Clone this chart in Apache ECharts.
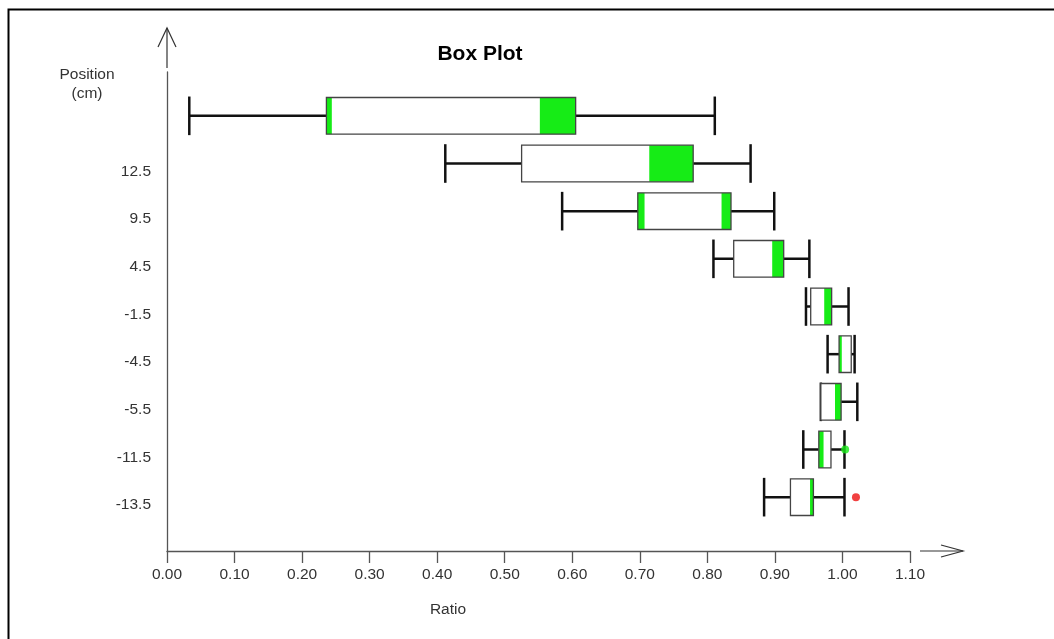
<!DOCTYPE html>
<html>
<head>
<meta charset="utf-8">
<script src="https://cdn.jsdelivr.net/npm/echarts@6/dist/echarts.min.js"></script>
<style>html,body{margin:0;padding:0;background:#fff}#c{width:1054px;height:639px}</style>
</head>
<body>
<div id="c"></div>
<script>
// Row labels, bottom to top
const positions = ['-13.5', '-11.5', '-5.5', '-4.5', '-1.5', '4.5', '9.5', '12.5', ''];
const whiskerLow  = [0.884, 0.942, 0.968, 0.978, 0.946, 0.809, 0.585, 0.412, 0.033];
const q1          = [0.923, 0.965, 0.968, 0.995, 0.953, 0.839, 0.697, 0.525, 0.236];
const q3          = [0.957, 0.983, 0.998, 1.013, 0.984, 0.913, 0.835, 0.779, 0.605];
const whiskerHigh = [1.003, 1.003, 1.022, 1.018, 1.009, 0.951, 0.899, 0.864, 0.811];
// green shaded segments inside each box (null = none)
const greenAStart = [0.952, 0.965, 0.989, 0.995, 0.973, 0.896, 0.697, 0.714, 0.236];
const greenAEnd   = [0.957, 0.972, 0.998, 0.999, 0.984, 0.913, 0.707, 0.779, 0.244];
const greenBStart = [null, null, null, null, null, null, 0.821, null, 0.552];
const greenBEnd   = [null, null, null, null, null, null, 0.835, null, 0.605];
// outliers
const outlierGreen = [[1.004, 1]];
const outlierRed   = [[1.020, 0]];
const xTicks = { min: 0, max: 1.1, interval: 0.1 };

const GREEN = '#16ec16';
const data = positions.map((p, i) => [i, whiskerLow[i], q1[i], q3[i], whiskerHigh[i],
  greenAStart[i], greenAEnd[i], greenBStart[i], greenBEnd[i]]);

function renderItem(params, api) {
  const idx = api.value(0);
  const band = api.size([0, 1])[1];
  const h = band * 0.77;
  const capH = band * 0.81;
  const lo = api.coord([api.value(1), idx]);
  const b1 = api.coord([api.value(2), idx]);
  const b3 = api.coord([api.value(3), idx]);
  const hi = api.coord([api.value(4), idx]);
  const y = lo[1];
  const children = [];
  const ln = { stroke: '#111', lineWidth: 2.5 };
  children.push({ type: 'line', shape: { x1: lo[0], y1: y, x2: hi[0], y2: y }, style: ln });
  children.push({ type: 'line', shape: { x1: lo[0], y1: y - capH / 2, x2: lo[0], y2: y + capH / 2 }, style: ln });
  children.push({ type: 'line', shape: { x1: hi[0], y1: y - capH / 2, x2: hi[0], y2: y + capH / 2 }, style: ln });
  children.push({ type: 'rect', shape: { x: b1[0], y: y - h / 2, width: b3[0] - b1[0], height: h },
    style: { fill: '#fff', stroke: null } });
  [[5, 6], [7, 8]].forEach(([a, b]) => {
    const s = api.value(a), e = api.value(b);
    if (s != null && e != null && !isNaN(s) && !isNaN(e)) {
      const ps = api.coord([s, idx]), pe = api.coord([e, idx]);
      children.push({ type: 'rect', shape: { x: ps[0], y: y - h / 2, width: Math.max(pe[0] - ps[0], 1), height: h },
        style: { fill: GREEN, stroke: null } });
    }
  });
  children.push({ type: 'rect', shape: { x: b1[0], y: y - h / 2, width: b3[0] - b1[0], height: h },
    style: { fill: null, stroke: '#444', lineWidth: 1.3 } });
  return { type: 'group', children };
}

const chart = echarts.init(document.getElementById('c'), null, { renderer: 'canvas' });
const font = 'Liberation Sans, Arial, sans-serif';
const FS = 15.5;
chart.setOption({
  backgroundColor: '#fff',
  animation: false,
  textStyle: { fontFamily: font },
  title: { text: 'Box Plot', left: 475, top: 39, textAlign: 'center',
    textStyle: { fontFamily: font, fontSize: 21, fontWeight: 'bold', color: '#000' } },
  grid: [
    { left: 167, right: 144, top: 72, bottom: 88 },
    { left: 167, right: 144, top: 92, bottom: 118 }
  ],
  xAxis: [
    { gridIndex: 0, type: 'value', min: xTicks.min, max: xTicks.max, interval: xTicks.interval,
      axisLine: { show: true, lineStyle: { color: '#555', width: 1.3 } },
      axisTick: { show: true, inside: false, length: 12, lineStyle: { color: '#555', width: 1.3 } },
      axisLabel: { margin: 16, fontSize: FS, color: '#333', fontFamily: font, formatter: v => v.toFixed(2) },
      splitLine: { show: false } },
    { gridIndex: 1, type: 'value', min: xTicks.min, max: xTicks.max, show: false }
  ],
  yAxis: [
    { gridIndex: 0, type: 'value', min: 0, max: 1,
      axisLine: { show: true, lineStyle: { color: '#555', width: 1.3 } },
      axisTick: { show: false }, axisLabel: { show: false }, splitLine: { show: false } },
    { gridIndex: 1, type: 'category', data: positions,
      axisLine: { show: false }, axisTick: { show: false }, splitLine: { show: false },
      axisLabel: { margin: 16, fontSize: FS, color: '#333', fontFamily: font, verticalAlign: 'top' } }
  ],
  series: [
    { type: 'custom', xAxisIndex: 1, yAxisIndex: 1, renderItem,
      encode: { x: [1, 2, 3, 4], y: 0 }, data },
    { type: 'scatter', xAxisIndex: 1, yAxisIndex: 1, data: outlierGreen, symbolSize: 8,
      itemStyle: { color: GREEN } },
    { type: 'scatter', xAxisIndex: 1, yAxisIndex: 1, data: outlierRed, symbolSize: 8,
      itemStyle: { color: '#ee1111' } }
  ],
  graphic: [
    { type: 'rect', shape: { x: 8.5, y: 9.5, width: 1200, height: 800 },
      style: { fill: null, stroke: '#000', lineWidth: 2 }, silent: true, z: 100 },
    { type: 'polyline', shape: { points: [[167, 68], [167, 28]] }, style: { stroke: '#333', lineWidth: 1.2, fill: null } },
    { type: 'polyline', shape: { points: [[158, 47], [167, 28], [176, 47]] }, style: { stroke: '#333', lineWidth: 1.2, fill: null } },
    { type: 'polyline', shape: { points: [[920, 551], [963, 551]] }, style: { stroke: '#333', lineWidth: 1.2, fill: null } },
    { type: 'polyline', shape: { points: [[941, 545], [963, 551], [941, 557]] }, style: { stroke: '#333', lineWidth: 1.2, fill: null } },
    { type: 'text', x: 87, y: 75, style: { text: 'Position', fill: '#333', font: FS + 'px ' + font, textAlign: 'center', textVerticalAlign: 'middle' } },
    { type: 'text', x: 87, y: 94, style: { text: '(cm)', fill: '#333', font: FS + 'px ' + font, textAlign: 'center', textVerticalAlign: 'middle' } },
    { type: 'text', x: 448, y: 610, style: { text: 'Ratio', fill: '#333', font: FS + 'px ' + font, textAlign: 'center', textVerticalAlign: 'middle' } }
  ]
});
</script>
</body>
</html>
